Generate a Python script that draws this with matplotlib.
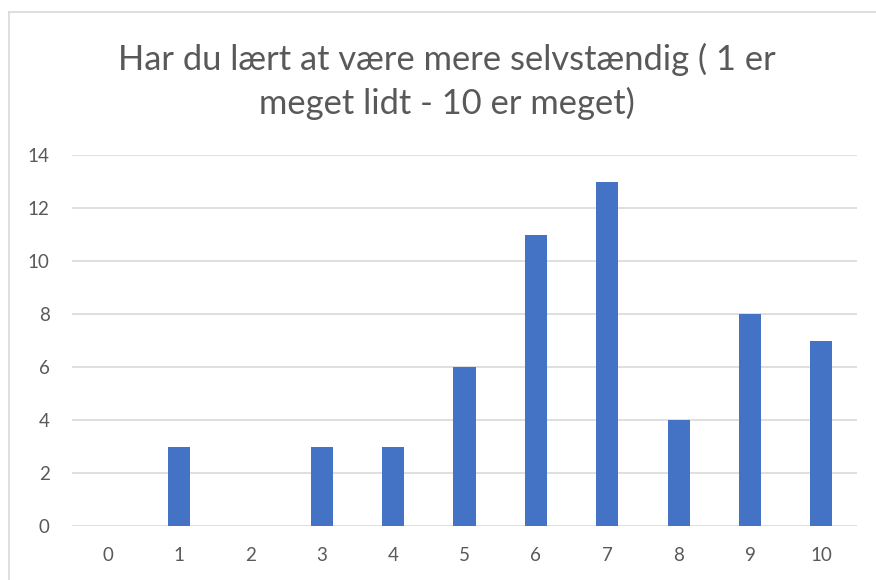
import matplotlib
matplotlib.use("Agg")
import matplotlib.pyplot as plt
from matplotlib.lines import Line2D

# svarfordeling
categories = [0, 1, 2, 3, 4, 5, 6, 7, 8, 9, 10]
counts = [0, 3, 0, 3, 3, 6, 11, 13, 4, 8, 7]
y_ticks = [0, 2, 4, 6, 8, 10, 12, 14]
title = "Har du lært at være mere selvstændig ( 1 er\nmeget lidt - 10 er meget)"

plt.rcParams['font.family'] = ['Lato', 'DejaVu Sans']
text_col = "#595959"
grid_col = "#d9d9d9"

fig = plt.figure(figsize=(8.76, 5.8), dpi=100)
ax = fig.add_axes([72 / 876, 1 - 526 / 580, (857 - 72) / 876, (526 - 155) / 580])

ax.bar(categories, counts, width=0.31, color="#4472C4", zorder=3)

ax.set_xlim(-0.5, 10.5)
ax.set_ylim(0, 14)
ax.set_yticks(y_ticks)
ax.set_xticks(categories)
ax.grid(axis="y", color=grid_col, linewidth=1.2, zorder=0)
for s in ax.spines.values():
    s.set_visible(False)
ax.tick_params(length=0, labelsize=13.5, labelcolor=text_col)
ax.tick_params(axis="y", pad=16)
ax.tick_params(axis="x", pad=15)

fig.text(447 / 876, 1 - 81 / 580, title, ha="center", va="center", fontsize=24.8,
         color=text_col, linespacing=1.4)

# chart border (only left/top visible in the crop)
fig.add_artist(Line2D([8.5 / 876, 8.5 / 876], [0, 1 - 11.5 / 580], color=grid_col, lw=1.2))
fig.add_artist(Line2D([8.5 / 876, 1], [1 - 11.5 / 580, 1 - 11.5 / 580], color=grid_col, lw=1.2))

fig.savefig("out.png", dpi=100)
